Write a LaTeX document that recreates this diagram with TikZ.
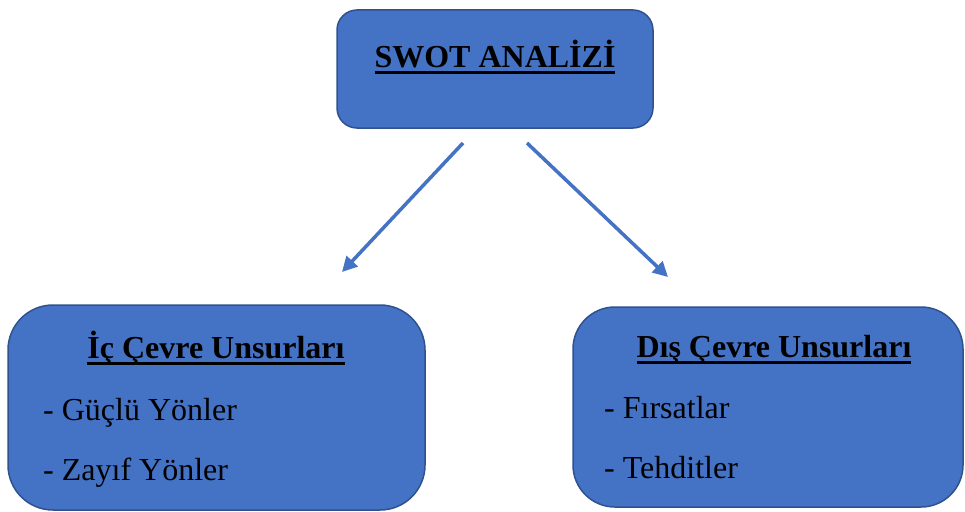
\documentclass[tikz,border=0pt]{standalone}
\usepackage{fontspec}
\setmainfont{Liberation Serif}
\usetikzlibrary{arrows.meta}
\definecolor{swotfill}{HTML}{4472C4}
\definecolor{swotedge}{HTML}{2F528F}
\newcommand\undl[1]{\leavevmode\setbox0=\hbox{#1}\rlap{\vrule width\wd0 height -0.11em depth 0.22em}\box0}
\begin{document}
\begin{tikzpicture}[x=1pt, y=-1pt, box/.style={ draw=swotedge, fill=swotfill, line width=1.5pt, minimum width=#1 }, title-text/.style={ anchor=base, inner sep=0pt, font=\bfseries\fontsize{32}{36}\selectfont }, item-text/.style={ anchor=base west, inner sep=0pt, font=\fontsize{32}{36}\selectfont }, swot-arrow/.style={ draw=swotfill, line width=3.5pt, -{Triangle[length=15pt, width=15pt]} } ]
            \useasboundingbox (0, 0) rectangle (965, 511);
            \node[box=316pt, minimum height=118pt, rounded corners=20pt] (SWOT) at (495, 69) {};
            \node[box=417pt, minimum height=205pt, rounded corners=45pt] (IC) at (216.5, 407.5) {};
            \node[box=390pt, minimum height=200pt, rounded corners=42pt] (DIS) at (768, 407) {};

            % Texts
            \node[title-text] (SWOT-title) at (495, 67) {\undl{SWOT ANALİZİ}};
            \node[title-text] (IC-title) at (216, 358) {\undl{İç Çevre Unsurları}};
            \node[item-text] (IC-1) at (43, 420) {- Güçlü Yönler};
            \node[item-text] (IC-2) at (43, 480) {- Zayıf Yönler};
            \node[title-text] (DIS-title) at (774, 357) {\undl{Dış Çevre Unsurları}};
            \node[item-text] (DIS-1) at (604, 418) {- Fırsatlar};
            \node[item-text] (DIS-2) at (604, 478) {- Tehditler};

            % Arrows
            \coordinate (L-from) at (463, 143);
            \coordinate (L-to) at (342, 272);
            \coordinate (R-from) at (527, 143);
            \coordinate (R-to) at (668, 277);
            \draw[swot-arrow] (L-from) -- (L-to);
            \draw[swot-arrow] (R-from) -- (R-to);
        \end{tikzpicture}
\end{document}
